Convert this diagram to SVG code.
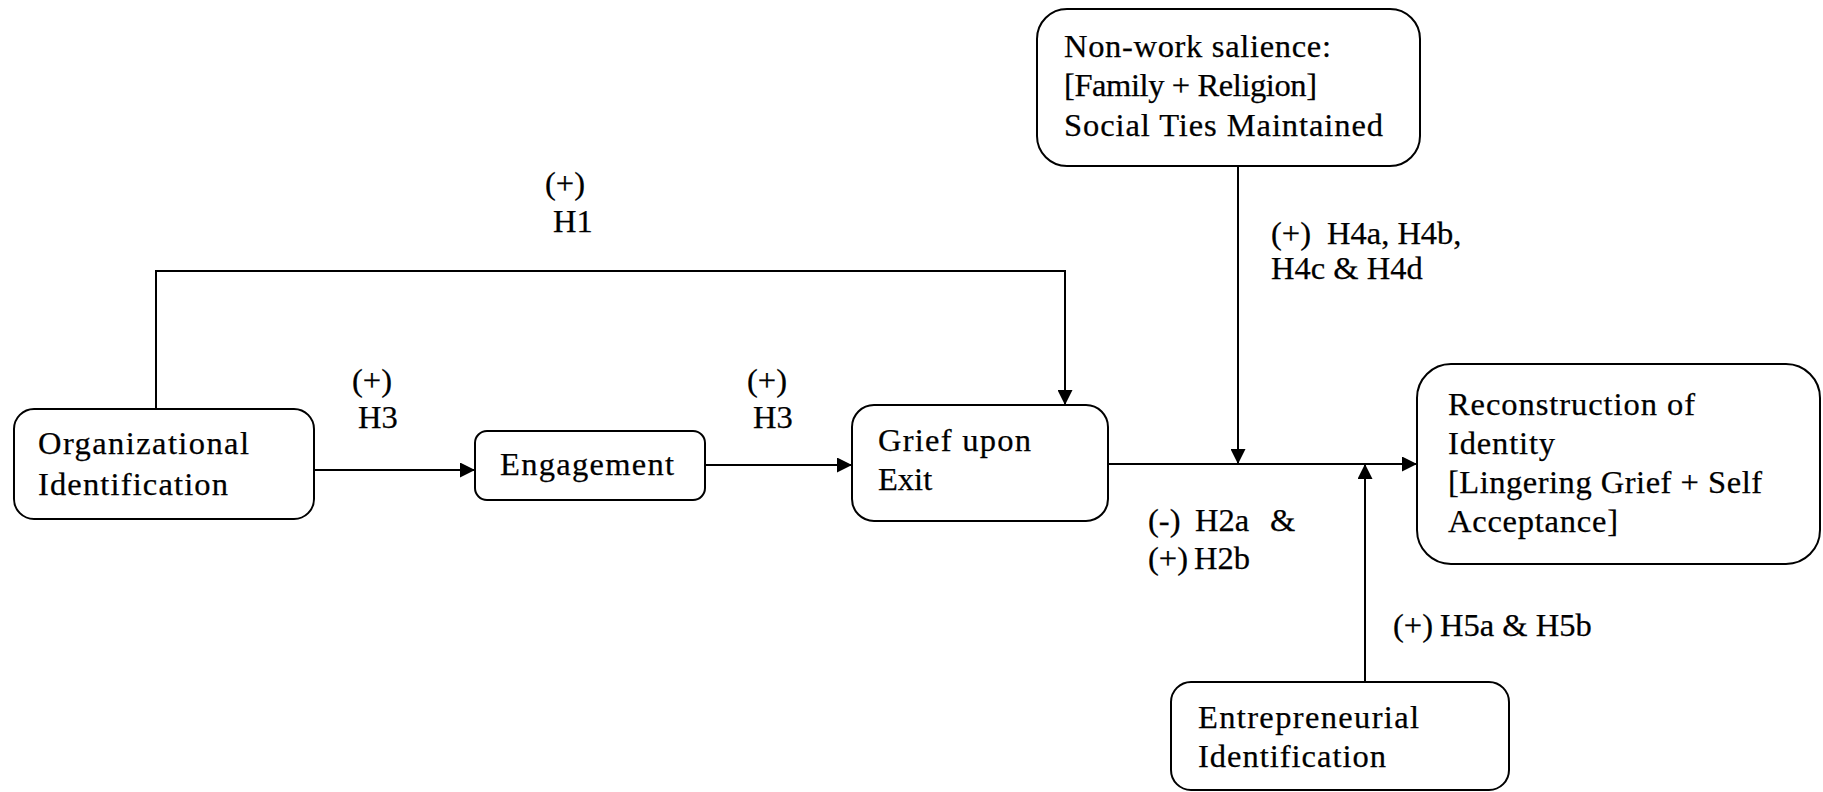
<svg xmlns="http://www.w3.org/2000/svg" width="1823" height="792" viewBox="0 0 1823 792">
  <style>
    .box { fill: #ffffff; stroke: #000000; stroke-width: 2; }
    .txt { font-family: "Liberation Serif", "DejaVu Serif", serif; font-size: 32.5px; fill: #000000; stroke: #000000; stroke-width: 0.25px; }
    .edge { fill: none; stroke: #000000; stroke-width: 2; }
  </style>
  <defs>
    <marker id="arrow" viewBox="0 0 15 15" refX="15" refY="7.5" markerWidth="15" markerHeight="15" markerUnits="userSpaceOnUse" orient="auto">
      <path d="M0,0 L15,7.5 L0,15 Z" fill="#000000"/>
    </marker>
  </defs>
  <rect width="1823" height="792" fill="#ffffff"/>

  <!-- connectors -->
  <g id="connectors">
    <polyline class="edge" points="156,409 156,271 1065,271 1065,405" marker-end="url(#arrow)"/>
    <line class="edge" x1="314" y1="470" x2="475" y2="470" marker-end="url(#arrow)"/>
    <line class="edge" x1="705" y1="465" x2="852" y2="465" marker-end="url(#arrow)"/>
    <line class="edge" x1="1108" y1="464" x2="1417" y2="464" marker-end="url(#arrow)"/>
    <line class="edge" x1="1238" y1="166" x2="1238" y2="464" marker-end="url(#arrow)"/>
    <line class="edge" x1="1365" y1="682" x2="1365" y2="464" marker-end="url(#arrow)"/>
  </g>

  <!-- connector labels -->
  <g id="labels">
    <text class="txt" x="545" y="194">(+)</text>
    <text class="txt" x="553" y="232">H1</text>
    <text class="txt" x="352" y="391">(+)</text>
    <text class="txt" x="358" y="428">H3</text>
    <text class="txt" x="747" y="391">(+)</text>
    <text class="txt" x="753" y="428">H3</text>
    <text class="txt" y="531"><tspan x="1148">(-)</tspan><tspan x="1195">H2a</tspan><tspan x="1270">&amp;</tspan></text>
    <text class="txt" y="569"><tspan x="1148">(+)</tspan><tspan x="1194">H2b</tspan></text>
    <text class="txt" y="244"><tspan x="1271">(+)</tspan><tspan x="1327">H4a, H4b,</tspan></text>
    <text class="txt" x="1271" y="279">H4c &amp; H4d</text>
    <text class="txt" y="636"><tspan x="1393">(+)</tspan><tspan x="1440">H5a &amp; H5b</tspan></text>
  </g>

  <!-- nodes -->
  <g id="org-identification">
    <rect class="box" x="14" y="409" width="300" height="110" rx="20" ry="20"/>
    <text class="txt" x="38" y="454" textLength="211" lengthAdjust="spacing">Organizational</text>
    <text class="txt" x="38" y="495" textLength="190" lengthAdjust="spacing">Identification</text>
  </g>

  <g id="engagement">
    <rect class="box" x="475" y="431" width="230" height="69" rx="12" ry="12"/>
    <text class="txt" x="500" y="475" textLength="174" lengthAdjust="spacing">Engagement</text>
  </g>

  <g id="grief-upon-exit">
    <rect class="box" x="852" y="405" width="256" height="116" rx="22" ry="22"/>
    <text class="txt" x="878" y="451" textLength="153" lengthAdjust="spacing">Grief upon</text>
    <text class="txt" x="878" y="490">Exit</text>
  </g>

  <g id="non-work-salience">
    <rect class="box" x="1037" y="9" width="383" height="157" rx="30" ry="30"/>
    <text class="txt" x="1064" y="57" textLength="267" lengthAdjust="spacing">Non-work salience:</text>
    <text class="txt" x="1064" y="96" textLength="253" lengthAdjust="spacing">[Family + Religion]</text>
    <text class="txt" x="1064" y="136" textLength="319" lengthAdjust="spacing">Social Ties Maintained</text>
  </g>

  <g id="reconstruction-of-identity">
    <rect class="box" x="1417" y="364" width="403" height="200" rx="34" ry="34"/>
    <text class="txt" x="1448" y="415" textLength="247" lengthAdjust="spacing">Reconstruction of</text>
    <text class="txt" x="1448" y="454" textLength="107" lengthAdjust="spacing">Identity</text>
    <text class="txt" x="1448" y="493" textLength="314" lengthAdjust="spacing">[Lingering Grief + Self</text>
    <text class="txt" x="1448" y="532" textLength="170" lengthAdjust="spacing">Acceptance]</text>
  </g>

  <g id="entrepreneurial-identification">
    <rect class="box" x="1171" y="682" width="338" height="108" rx="20" ry="20"/>
    <text class="txt" x="1198" y="728" textLength="221" lengthAdjust="spacing">Entrepreneurial</text>
    <text class="txt" x="1198" y="767" textLength="188" lengthAdjust="spacing">Identification</text>
  </g>
</svg>
